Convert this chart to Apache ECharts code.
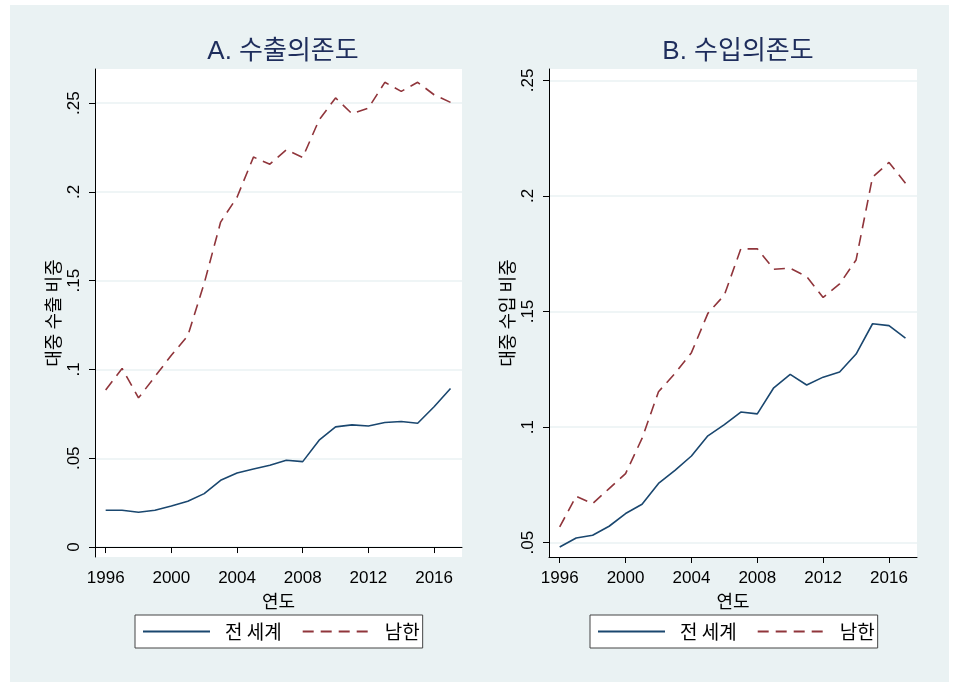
<!DOCTYPE html>
<html>
<head>
<meta charset="utf-8">
<title>수출의존도 / 수입의존도</title>
<script src="https://cdn.jsdelivr.net/npm/echarts@6/dist/echarts.min.js"></script>
<style>
  body { margin: 0; background: #fff; }
  .bg { position: absolute; left: 10px; top: 5px; width: 939px; height: 677px; background: #eaf2f3; }
  #main { position: absolute; left: 0; top: 0; width: 957px; height: 687px; }
</style>
</head>
<body>
<div class="bg"></div>
<div id="main"></div>
<script>
// 연도
const years = [1996, 1997, 1998, 1999, 2000, 2001, 2002, 2003, 2004, 2005, 2006,
  2007, 2008, 2009, 2010, 2011, 2012, 2013, 2014, 2015, 2016, 2017]
// A. 수출의존도 (대중 수출 비중)
const exportWorld = [0.0207, 0.0207, 0.0196, 0.0207, 0.0231, 0.0258, 0.0301, 0.0376, 0.0417, 0.0440, 0.0461,
  0.0489, 0.0481, 0.0602, 0.0677, 0.0688, 0.0682, 0.0701, 0.0707, 0.0697, 0.0790, 0.0893]
const exportKorea = [0.0884, 0.1006, 0.0840, 0.0960, 0.1080, 0.1190, 0.1485, 0.1830, 0.1970, 0.2196, 0.2156,
  0.2237, 0.2194, 0.2406, 0.2529, 0.2440, 0.2472, 0.2617, 0.2566, 0.2617, 0.2547, 0.2504]
// B. 수입의존도 (대중 수입 비중)
const importWorld = [0.0481, 0.0520, 0.0532, 0.0571, 0.0626, 0.0666, 0.0756, 0.0813, 0.0875, 0.0962, 0.1011,
  0.1065, 0.1057, 0.1170, 0.1228, 0.1182, 0.1216, 0.1238, 0.1316, 0.1447, 0.1439, 0.1385]
const importKorea = [0.0568, 0.0701, 0.0669, 0.0734, 0.0799, 0.0951, 0.1153, 0.1232, 0.1322, 0.1492, 0.1571,
  0.1771, 0.1771, 0.1683, 0.1687, 0.1651, 0.1561, 0.1619, 0.1723, 0.2081, 0.2145, 0.2055]
// 눈금
const xTicks = [1996, 2000, 2004, 2008, 2012, 2016]
const yTicksA = [0, 0.05, 0.1, 0.15, 0.2, 0.25]
const yTicksB = [0.05, 0.1, 0.15, 0.2, 0.25]
const names = ['전 세계', '남한']

const BLUE = '#1a476f'
const RED = '#90353b'
const latin = 'Liberation Sans, Arial, sans-serif'
const kr = 'Noto Sans CJK KR, sans-serif'

const pairs = (vals) => years.map((y, i) => [y, vals[i]])
// 0.25 -> .25 (Stata 스타일)
const fmt = (v) => (Math.abs(v) < 1e-9 ? '0' : String(+v.toFixed(2)).replace(/^0/, ''))

function xAxis(idx) {
  return {
    type: 'value',
    gridIndex: idx,
    min: 1995.35,
    max: 2017.7,
    name: '연도',
    nameLocation: 'middle',
    nameGap: 33,
    nameTextStyle: { fontFamily: kr, fontSize: 18, color: '#000' },
    axisLine: { show: true, lineStyle: { color: '#000', width: 1 } },
    axisTick: { show: true, length: 6, customValues: xTicks, lineStyle: { color: '#000' } },
    axisLabel: { customValues: xTicks, formatter: (v) => String(v), fontFamily: latin, fontSize: 17, color: '#000', margin: 13 },
    splitLine: { show: false },
  }
}

function yAxis(idx, min, max, ticks, name) {
  return {
    type: 'value',
    gridIndex: idx,
    min: min,
    max: max,
    name: name,
    nameLocation: 'middle',
    nameGap: 33,
    nameTextStyle: { fontFamily: kr, fontSize: 18, color: '#000' },
    axisLine: { show: true, lineStyle: { color: '#000', width: 1 } },
    axisTick: { show: true, length: 6, customValues: ticks, lineStyle: { color: '#000' } },
    axisLabel: { customValues: ticks, rotate: 90, formatter: fmt, fontFamily: latin, fontSize: 17, color: '#000', margin: 12 },
    splitLine: { show: true, lineStyle: { color: '#eaf2f3', width: 1.5 } },
  }
}

function line(name, idx, vals, color, dashed) {
  return {
    name: name,
    type: 'line',
    xAxisIndex: idx,
    yAxisIndex: idx,
    data: pairs(vals),
    symbol: 'none',
    lineStyle: { color: color, width: 1.6, type: dashed ? [11, 7] : 'solid' },
    itemStyle: { color: color },
  }
}

function legend(left) {
  return {
    left: left,
    top: 615,
    data: names,
    itemWidth: 67,
    itemHeight: 14,
    itemGap: 20,
    itemStyle: { opacity: 0 }, // 범례에 선만 보이게
    padding: [7, 3, 7, 7],
    borderColor: '#444',
    borderWidth: 1,
    backgroundColor: '#fff',
    textStyle: { fontFamily: kr, fontSize: 19, color: '#000', padding: [0, 0, 0, 10] },
  }
}

const chart = echarts.init(document.getElementById('main'))
chart.setOption({
  animation: false,
  title: [
    { text: 'A. 수출의존도', left: 278, top: 34, textAlign: 'center',
      textStyle: { fontFamily: latin + ', ' + kr, fontSize: 26, fontWeight: 'normal', color: '#1e2d5c' } },
    { text: 'B. 수입의존도', left: 733, top: 34, textAlign: 'center',
      textStyle: { fontFamily: latin + ', ' + kr, fontSize: 26, fontWeight: 'normal', color: '#1e2d5c' } },
  ],
  grid: [
    { left: 95, top: 69, width: 367, height: 488, show: true, backgroundColor: '#fff', borderWidth: 0 },
    { left: 549, top: 69, width: 368, height: 488, show: true, backgroundColor: '#fff', borderWidth: 0 },
  ],
  xAxis: [xAxis(0), xAxis(1)],
  yAxis: [
    yAxis(0, -0.0056, 0.2692, yTicksA, '대중 수출 비중'),
    yAxis(1, 0.0438, 0.2549, yTicksB, '대중 수입 비중'),
  ],
  legend: [legend(135), legend(590)],
  series: [
    line(names[0], 0, exportWorld, BLUE, false),
    line(names[1], 0, exportKorea, RED, true),
    line(names[0], 1, importWorld, BLUE, false),
    line(names[1], 1, importKorea, RED, true),
  ],
})
</script>
</body>
</html>
